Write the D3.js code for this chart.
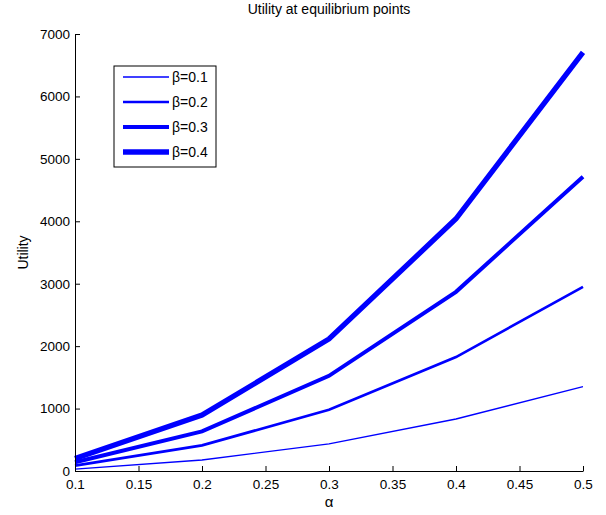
<!DOCTYPE html>
<html>
<head>
<meta charset="utf-8">
<script src="https://cdn.jsdelivr.net/npm/d3@7"></script>
<style>
  body { margin: 0; background: #fff; }
  text { font-family: "Liberation Sans", Arial, sans-serif; fill: #000; }
</style>
</head>
<body>
<svg width="606" height="515"></svg>
<script>
// alpha values on the x axis
var alphas = [0.1, 0.2, 0.3, 0.4, 0.5];
// one series per beta
var betas = ["β=0.1", "β=0.2", "β=0.3", "β=0.4"];
var util01 = [30, 176, 435, 833, 1350];
var util02 = [85, 410, 980, 1825, 2950];
var util03 = [140, 635, 1525, 2870, 4715];
var util04 = [200, 895, 2115, 4040, 6705];
var widths = [1.3, 2.7, 4, 5.3];

var xTicks = [0.1, 0.15, 0.2, 0.25, 0.3, 0.35, 0.4, 0.45, 0.5];
var yTicks = [0, 1000, 2000, 3000, 4000, 5000, 6000, 7000];

var svg = d3.select("svg"),
    margin = {left: 75, right: 23, top: 34, bottom: 44},
    w = +svg.attr("width") - margin.left - margin.right,
    h = +svg.attr("height") - margin.top - margin.bottom,
    g = svg.append("g").attr("transform", "translate(" + margin.left + "," + margin.top + ")");

var x = d3.scaleLinear().domain([0.1, 0.5]).range([0, w]);
var y = d3.scaleLinear().domain([0, 7000]).range([h, 0]);

var series = [util01, util02, util03, util04].map(function(v, i) {
    return {name: betas[i], width: widths[i], values: v};
});

var line = d3.line()
    .x(function(d, i) { return x(alphas[i]); })
    .y(function(d) { return y(d); });

g.selectAll(".series")
    .data(series)
    .enter().append("path")
    .attr("class", "series")
    .attr("fill", "none")
    .attr("stroke", "#0000ff")
    .attr("stroke-width", function(d) { return d.width; })
    .attr("stroke-linejoin", "miter")
    .attr("d", function(d) { return line(d.values); });

// axes, matlab style ticks pointing inward
var xAxis = g.append("g")
    .attr("transform", "translate(0," + h + ")")
    .call(d3.axisBottom(x).tickValues(xTicks).tickSizeInner(-5).tickSizeOuter(0).tickPadding(8)
        .tickFormat(function(d) { return String(+d.toFixed(2)); }));
var yAxis = g.append("g")
    .call(d3.axisLeft(y).tickValues(yTicks).tickSizeInner(-5).tickSizeOuter(0).tickPadding(5)
        .tickFormat(d3.format("d")));

svg.selectAll(".domain").attr("stroke", "#000").attr("stroke-width", 1);
svg.selectAll(".tick line").attr("stroke", "#000");
svg.selectAll(".tick text").style("font-size", "13.5px");

g.append("text")
    .attr("x", w / 2).attr("y", -20)
    .attr("text-anchor", "middle")
    .style("font-size", "14px")
    .text("Utility at equilibrium points");

g.append("text")
    .attr("x", w / 2).attr("y", h + 36)
    .attr("text-anchor", "middle")
    .style("font-size", "15px")
    .text("α");

g.append("text")
    .attr("transform", "translate(-47," + (h / 2) + ") rotate(-90)")
    .attr("text-anchor", "middle")
    .style("font-size", "14px")
    .text("Utility");

// legend
var legend = svg.append("g").attr("transform", "translate(114,66)");
legend.append("rect")
    .attr("width", 102).attr("height", 101)
    .attr("fill", "#fff").attr("stroke", "#000").attr("stroke-width", 1);

var item = legend.selectAll(".item")
    .data(series)
    .enter().append("g")
    .attr("class", "item")
    .attr("transform", function(d, i) { return "translate(0," + (11 + i * 25) + ")"; });

item.append("line")
    .attr("x1", 9).attr("x2", 55)
    .attr("stroke", "#0000ff")
    .attr("stroke-width", function(d) { return d.width; });

item.append("text")
    .attr("x", 58).attr("dy", "0.36em")
    .style("font-size", "14px")
    .text(function(d) { return d.name; });
</script>
</body>
</html>
